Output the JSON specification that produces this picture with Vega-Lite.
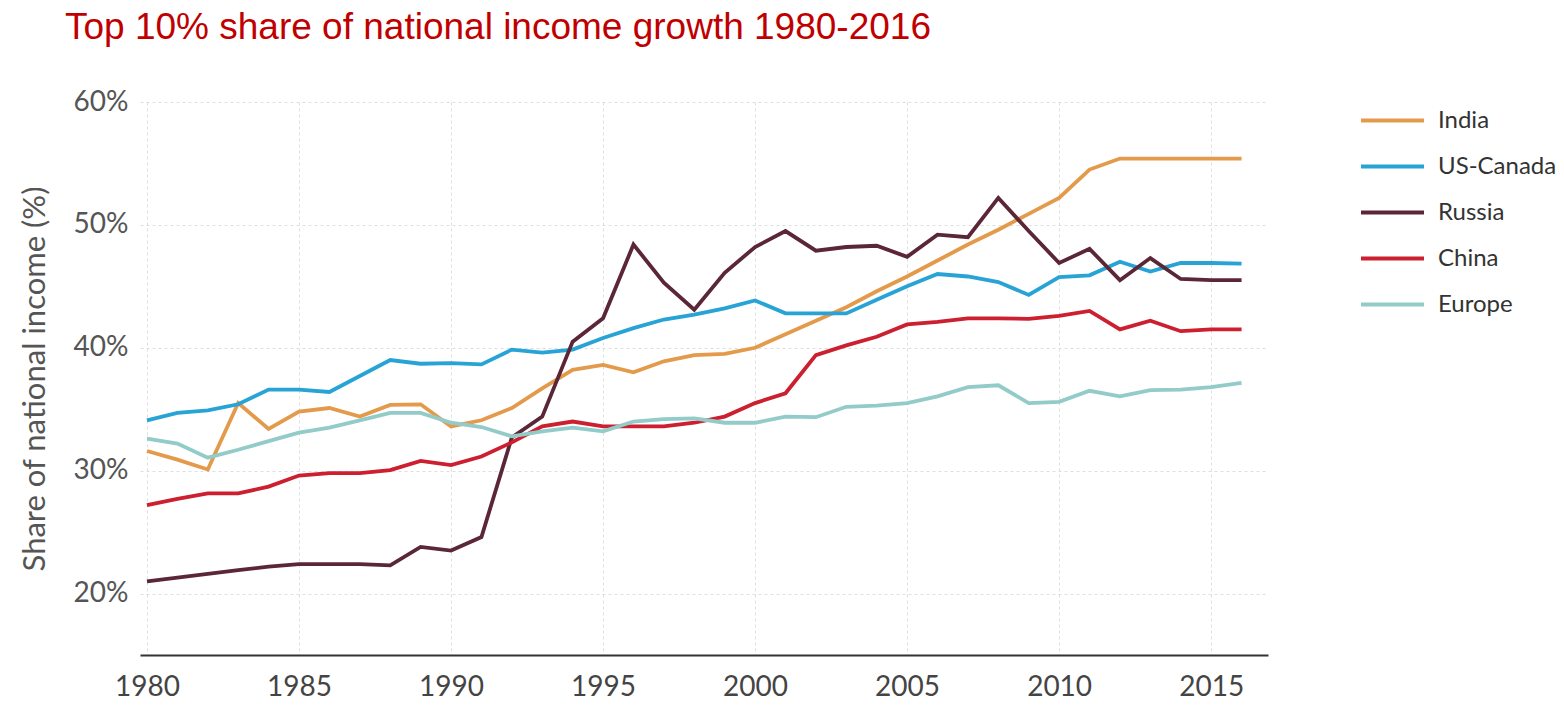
{
  "$schema": "https://vega.github.io/schema/vega-lite/v6.json",
  "autosize": "none",
  "width": 1128,
  "height": 553,
  "padding": {"left": 140, "top": 102, "right": 296, "bottom": 52},
  "background": "white",
  "title": {
    "text": "Top 10% share of national income growth 1980-2016",
    "anchor": "start",
    "frame": "group",
    "font": "Liberation Sans",
    "fontSize": 37,
    "fontWeight": "normal",
    "color": "#C00000",
    "baseline": "alphabetic",
    "offset": 11,
    "dx": -75
  },
  "config": {
    "view": {"stroke": null},
    "font": "Lato"
  },
  "data": {
    "values": [
      {"year": 1980, "India": 31.6, "US-Canada": 34.1, "Russia": 21.0, "China": 27.2, "Europe": 32.6},
      {"year": 1981, "India": 30.9, "US-Canada": 34.7, "Russia": 21.3, "China": 27.7, "Europe": 32.2},
      {"year": 1982, "India": 30.1, "US-Canada": 34.9, "Russia": 21.6, "China": 28.15, "Europe": 31.06},
      {"year": 1983, "India": 35.5, "US-Canada": 35.4, "Russia": 21.9, "China": 28.15, "Europe": 31.7},
      {"year": 1984, "India": 33.4, "US-Canada": 36.6, "Russia": 22.2, "China": 28.7, "Europe": 32.4},
      {"year": 1985, "India": 34.8, "US-Canada": 36.6, "Russia": 22.4, "China": 29.6, "Europe": 33.1},
      {"year": 1986, "India": 35.1, "US-Canada": 36.4, "Russia": 22.4, "China": 29.8, "Europe": 33.5},
      {"year": 1987, "India": 34.4, "US-Canada": 37.7, "Russia": 22.4, "China": 29.8, "Europe": 34.1},
      {"year": 1988, "India": 35.35, "US-Canada": 39.0, "Russia": 22.3, "China": 30.05, "Europe": 34.7},
      {"year": 1989, "India": 35.4, "US-Canada": 38.7, "Russia": 23.8, "China": 30.8, "Europe": 34.7},
      {"year": 1990, "India": 33.6, "US-Canada": 38.75, "Russia": 23.5, "China": 30.45, "Europe": 33.9},
      {"year": 1991, "India": 34.1, "US-Canada": 38.65, "Russia": 24.6, "China": 31.15, "Europe": 33.55},
      {"year": 1992, "India": 35.1, "US-Canada": 39.85, "Russia": 32.7, "China": 32.3, "Europe": 32.8},
      {"year": 1993, "India": 36.7, "US-Canada": 39.6, "Russia": 34.4, "China": 33.6, "Europe": 33.2},
      {"year": 1994, "India": 38.2, "US-Canada": 39.85, "Russia": 40.5, "China": 34.0, "Europe": 33.5},
      {"year": 1995, "India": 38.6, "US-Canada": 40.8, "Russia": 42.4, "China": 33.6, "Europe": 33.2},
      {"year": 1996, "India": 38.0, "US-Canada": 41.6, "Russia": 48.4, "China": 33.6, "Europe": 34.0},
      {"year": 1997, "India": 38.9, "US-Canada": 42.3, "Russia": 45.3, "China": 33.6, "Europe": 34.2},
      {"year": 1998, "India": 39.4, "US-Canada": 42.7, "Russia": 43.1, "China": 33.9, "Europe": 34.25},
      {"year": 1999, "India": 39.5, "US-Canada": 43.2, "Russia": 46.1, "China": 34.4, "Europe": 33.9},
      {"year": 2000, "India": 40.0, "US-Canada": 43.85, "Russia": 48.2, "China": 35.5, "Europe": 33.9},
      {"year": 2001, "India": 41.1, "US-Canada": 42.8, "Russia": 49.5, "China": 36.3, "Europe": 34.4},
      {"year": 2002, "India": 42.2, "US-Canada": 42.8, "Russia": 47.9, "China": 39.4, "Europe": 34.35},
      {"year": 2003, "India": 43.3, "US-Canada": 42.8, "Russia": 48.2, "China": 40.2, "Europe": 35.2},
      {"year": 2004, "India": 44.6, "US-Canada": 43.9, "Russia": 48.3, "China": 40.9, "Europe": 35.3},
      {"year": 2005, "India": 45.8, "US-Canada": 45.0, "Russia": 47.4, "China": 41.9, "Europe": 35.5},
      {"year": 2006, "India": 47.1, "US-Canada": 46.0, "Russia": 49.2, "China": 42.1, "Europe": 36.05},
      {"year": 2007, "India": 48.4, "US-Canada": 45.8, "Russia": 49.0, "China": 42.4, "Europe": 36.8},
      {"year": 2008, "India": 49.6, "US-Canada": 45.35, "Russia": 52.2, "China": 42.4, "Europe": 36.95},
      {"year": 2009, "India": 50.9, "US-Canada": 44.3, "Russia": 49.5, "China": 42.35, "Europe": 35.5},
      {"year": 2010, "India": 52.2, "US-Canada": 45.75, "Russia": 46.9, "China": 42.6, "Europe": 35.6},
      {"year": 2011, "India": 54.5, "US-Canada": 45.9, "Russia": 48.05, "China": 43.0, "Europe": 36.5},
      {"year": 2012, "India": 55.4, "US-Canada": 47.0, "Russia": 45.5, "China": 41.5, "Europe": 36.05},
      {"year": 2013, "India": 55.4, "US-Canada": 46.2, "Russia": 47.3, "China": 42.2, "Europe": 36.55},
      {"year": 2014, "India": 55.4, "US-Canada": 46.9, "Russia": 45.6, "China": 41.35, "Europe": 36.6},
      {"year": 2015, "India": 55.4, "US-Canada": 46.9, "Russia": 45.5, "China": 41.5, "Europe": 36.8},
      {"year": 2016, "India": 55.4, "US-Canada": 46.85, "Russia": 45.5, "China": 41.5, "Europe": 37.15}
    ]
  },
  "transform": [
    {"fold": ["India", "US-Canada", "Russia", "China", "Europe"], "as": ["region", "share"]}
  ],
  "mark": {"type": "line", "strokeWidth": 3.8, "strokeJoin": "miter", "clip": true},
  "encoding": {
    "x": {
      "field": "year",
      "type": "quantitative",
      "scale": {"domain": [1979.77, 2016.87], "nice": false, "zero": false},
      "axis": {
        "title": null,
        "values": [1980, 1985, 1990, 1995, 2000, 2005, 2010, 2015],
        "format": "d",
        "ticks": false,
        "domainColor": "#333333",
        "domainWidth": 2,
        "labelFont": "Lato",
        "labelFontSize": 28,
        "labelColor": "#444444",
        "labelPadding": 18,
        "grid": true,
        "gridColor": "#dedede",
        "gridDash": [3, 3],
        "gridWidth": 1
      }
    },
    "y": {
      "field": "share",
      "type": "quantitative",
      "scale": {"domain": [15, 60], "nice": false, "zero": false},
      "axis": {
        "title": "Share of national income (%)",
        "titleFont": "Lato",
        "titleFontSize": 31,
        "titleFontWeight": "normal",
        "titleColor": "#555555",
        "titlePadding": 22,
        "values": [20, 30, 40, 50, 60],
        "labelExpr": "datum.value + '%'",
        "ticks": false,
        "domain": false,
        "labelFont": "Lato",
        "labelFontSize": 28,
        "labelColor": "#555555",
        "labelPadding": 12,
        "grid": true,
        "gridColor": "#dedede",
        "gridDash": [3, 3],
        "gridWidth": 1
      }
    },
    "color": {
      "field": "region",
      "type": "nominal",
      "scale": {
        "domain": ["India", "US-Canada", "Russia", "China", "Europe"],
        "range": ["#E39A4B", "#27A3D5", "#5B2737", "#CC1F2F", "#92CBC8"]
      },
      "legend": {
        "title": null,
        "orient": "none",
        "legendX": 1219,
        "legendY": -15,
        "symbolType": "stroke",
        "symbolSize": 3969,
        "symbolStrokeWidth": 4,
        "rowPadding": -26,
        "labelFont": "Lato",
        "labelFontSize": 24,
        "labelColor": "#333333",
        "labelOffset": 12
      }
    }
  }
}
